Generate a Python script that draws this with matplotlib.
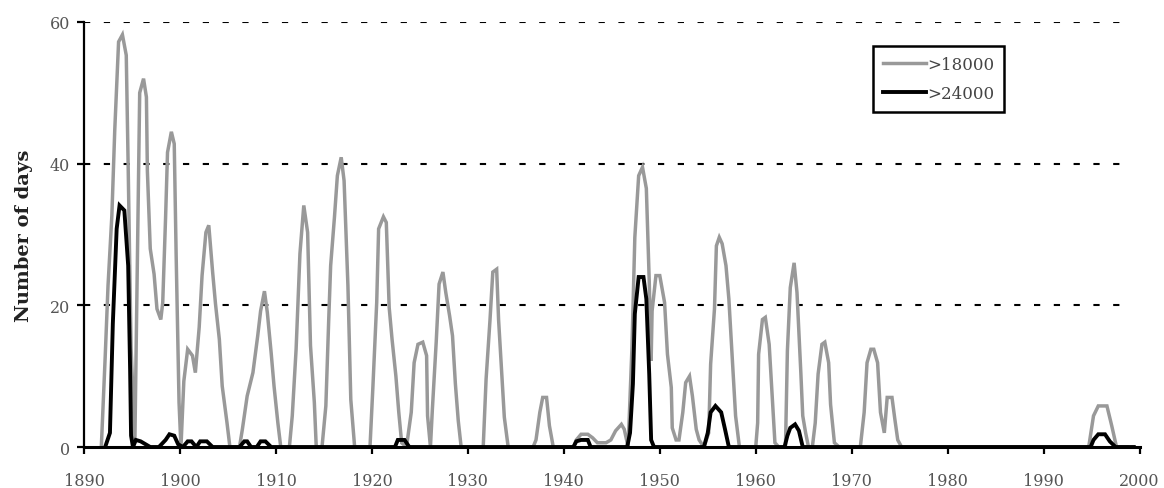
import matplotlib
matplotlib.use("Agg")
import matplotlib.pyplot as plt

# >18000 series (vertices)
years_18 = [1891.8, 1892.2, 1892.5, 1892.9, 1893.2, 1893.6, 1894.0, 1894.4, 1894.6, 1894.9,
            1895.3, 1895.8, 1896.2, 1896.5, 1896.6, 1896.9, 1897.3, 1897.6, 1898.0, 1898.2,
            1898.5, 1898.7, 1899.1, 1899.4, 1899.6, 1899.9, 1900.1, 1900.4, 1900.8, 1901.3,
            1901.6, 1902.0, 1902.3, 1902.7, 1903.0, 1903.4, 1903.7, 1904.1, 1904.4, 1904.9,
            1905.2, 1906.2, 1906.5, 1907.0, 1907.6, 1908.1, 1908.4, 1908.8, 1909.1, 1909.5,
            1909.8, 1910.2, 1910.5, 1911.4, 1911.7, 1912.1, 1912.5, 1912.9, 1913.3, 1913.6,
            1914.0, 1914.2, 1914.8, 1915.2, 1915.5, 1915.7, 1916.1, 1916.4, 1916.8, 1917.1,
            1917.5, 1917.8, 1918.2, 1919.8, 1920.1, 1920.5, 1920.7, 1921.2, 1921.5, 1921.8,
            1922.1, 1922.5, 1922.8, 1923.1, 1923.6, 1924.1, 1924.4, 1924.8, 1925.3, 1925.7,
            1925.8, 1926.1, 1926.3, 1926.7, 1927.0, 1927.4, 1927.7, 1928.1, 1928.4, 1928.7,
            1929.0, 1929.3, 1931.6, 1931.9, 1932.3, 1932.6, 1933.0, 1933.2, 1933.5, 1933.8,
            1934.2, 1936.8, 1937.1, 1937.5, 1937.8, 1938.2, 1938.5, 1938.9, 1941.0, 1941.3,
            1941.8, 1942.5, 1943.0, 1943.5, 1944.4, 1944.9, 1945.4, 1946.0, 1946.3, 1946.7,
            1947.1, 1947.4, 1947.8, 1948.2, 1948.6, 1948.9, 1949.1, 1949.2, 1949.6, 1950.0,
            1950.5, 1950.8, 1951.2, 1951.3, 1951.7, 1952.0, 1952.4, 1952.7, 1953.1, 1953.4,
            1953.8, 1954.1, 1954.6, 1955.1, 1955.3, 1955.7, 1955.9, 1956.2, 1956.5, 1956.9,
            1957.2, 1957.6, 1957.9, 1958.3, 1960.0, 1960.2, 1960.3, 1960.7, 1961.0, 1961.4,
            1961.7, 1962.0, 1962.4, 1963.1, 1963.3, 1963.6, 1964.0, 1964.3, 1964.7, 1964.9,
            1965.2, 1965.5, 1965.9, 1966.2, 1966.5, 1966.9, 1967.2, 1967.6, 1967.8, 1968.2,
            1968.7, 1970.9, 1971.3, 1971.6, 1972.0, 1972.3, 1972.7, 1973.0, 1973.4, 1973.7,
            1974.2, 1974.5, 1974.8, 1975.2, 1994.7, 1995.2, 1995.7, 1996.6, 1997.1, 1997.6,
            1998.7]
days_18 = [0, 12.6, 22.8, 32.7, 44.7, 57.2, 58.2, 55.3, 39.5, 14,
           1, 50, 52, 49.4, 39, 28, 24.4, 19.5, 18, 20.4,
           32.5, 41.6, 44.5, 42.8, 27, 6.3, 0, 9.3, 13.8, 12.9,
           10.5, 16.9, 24.2, 30.3, 31.3, 24.7, 20.2, 15.2, 8.6, 3.4,
           0, 0, 2.5, 7.2, 10.5, 15.7, 19.2, 22, 19, 13.3,
           8.6, 3.4, 0, 0, 4.4, 13.8, 27.3, 34.1, 30.3, 14.3,
           6.3, 0, 0, 5.8, 18, 25.6, 32.5, 38.3, 40.9, 37.6,
           22.8, 6.7, 0, 0, 8.4, 20.4, 30.8, 32.5, 31.7, 19.7,
           15.2, 10, 4.9, 0.6, 0, 4.9, 11.9, 14.5, 14.8, 12.9,
           4.4, 0, 5.3, 14.8, 23, 24.7, 21.8, 18.5, 15.7, 8.9,
           3.7, 0, 0, 9.6, 17.8, 24.7, 25.1, 18, 11, 4.2,
           0, 0, 1, 4.9, 7, 7, 3, 0, 0, 1,
           1.8, 1.8, 1.3, 0.6, 0.6, 1, 2.3, 3.2, 2.5, 0,
           14, 29.6, 38.3, 39.5, 36.5, 23.5, 12.2, 19.2, 24.2, 24.2,
           20.4, 13.1, 8.4, 2.7, 1, 1, 4.9, 9.1, 10, 7.2,
           2.5, 1, 0, 2, 11.7, 19.5, 28.4, 29.6, 28.7, 25.6,
           20.9, 11.5, 4.4, 0, 0, 3.4, 13.1, 18, 18.3, 14.5,
           7.5, 0.6, 0, 0, 13.6, 22.5, 26, 21.8, 10.5, 4.4,
           2, 0, 0, 3.4, 10.3, 14.5, 14.8, 11.9, 6, 0.6,
           0, 0, 4.9, 11.9, 13.8, 13.8, 11.9, 4.9, 2, 7,
           7, 3.9, 1, 0, 0, 4.4, 5.8, 5.8, 3, 0,
           0]

# >24000 series
years_24 = [1892.2, 1892.7, 1893.0, 1893.4, 1893.7, 1894.2, 1894.6, 1894.8, 1894.9, 1895.1,
            1895.4, 1895.9, 1896.4, 1896.9, 1897.8, 1898.5, 1898.9, 1899.4, 1899.8, 1900.3,
            1900.8, 1901.2, 1901.7, 1902.1, 1902.8, 1903.4, 1906.2, 1906.7, 1907.0, 1907.4,
            1908.0, 1908.4, 1908.9, 1909.5, 1922.4, 1922.7, 1923.4, 1923.9, 1941.0, 1941.3,
            1941.8, 1942.5, 1942.8, 1946.6, 1946.9, 1947.2, 1947.4, 1947.8, 1948.3, 1948.6,
            1948.9, 1949.1, 1949.4, 1954.6, 1955.0, 1955.3, 1955.8, 1956.4, 1956.8, 1957.2,
            1963.0, 1963.3, 1963.6, 1964.1, 1964.5, 1964.9, 1994.9, 1995.2, 1995.7, 1996.4,
            1996.9, 1997.5, 1999.4]
days_24 = [0, 2, 17.4, 30.8, 34.1, 33.4, 25.6, 11, 1.6, 0,
           1, 0.8, 0.4, 0, 0, 1, 1.8, 1.6, 0.4, 0,
           0.8, 0.8, 0, 0.8, 0.8, 0, 0, 0.8, 0.8, 0,
           0, 0.8, 0.8, 0, 0, 1, 1, 0, 0, 0.8,
           1, 1, 0, 0, 2, 8.9, 18.8, 24, 24, 20.9,
           10.3, 1, 0, 0, 2, 4.9, 5.8, 4.9, 2.5, 0,
           0, 1.6, 2.7, 3.2, 2.3, 0, 0, 1, 1.8, 1.8,
           0.8, 0, 0]

x_ticks = [1890, 1900, 1910, 1920, 1930, 1940, 1950, 1960, 1970, 1980, 1990, 2000]
y_ticks = [0, 20, 40, 60]

SERIF = ["DejaVu Serif"]

fig = plt.figure(figsize=(11.64, 4.89), dpi=100)
ax = fig.add_axes([0.0722, 0.0838, 0.9068, 0.8692])

ax.plot(years_18, days_18, color="#999999", lw=2.5, label=">18000", zorder=2,
        solid_joinstyle="miter")
ax.plot(years_24, days_24, color="black", lw=2.8, label=">24000", zorder=3,
        solid_joinstyle="miter")

ax.set_xlim(1890, 2000)
ax.set_ylim(0, 60)
ax.set_xticks(x_ticks)
ax.set_yticks(y_ticks)

# dashed gridlines stop a little short of the right end, as in the original
for y in y_ticks[1:]:
    ax.axhline(y, xmax=0.988, color="black", lw=1.5, dashes=(3, 6.5), zorder=1)

for side in ["top", "right"]:
    ax.spines[side].set_visible(False)
ax.spines["left"].set_linewidth(1.6)
ax.spines["bottom"].set_linewidth(2.2)
ax.spines["left"].set_zorder(4)
ax.spines["bottom"].set_zorder(4)

ax.tick_params(axis="both", direction="out", length=5, width=1.6, colors="black",
               labelcolor="#555555", labelsize=11.5)
ax.tick_params(axis="x", pad=13)
ax.tick_params(axis="y", pad=5)
for lab in ax.get_xticklabels() + ax.get_yticklabels():
    lab.set_family(SERIF)

ax.set_ylabel("Number of days", family=SERIF, fontsize=14, fontweight="bold",
              labelpad=12, color="#222222")

leg = ax.legend(loc="upper right", bbox_to_anchor=(0.872, 0.944), borderaxespad=0,
                frameon=True, fancybox=False, framealpha=1, edgecolor="black",
                handlelength=2.6, handletextpad=0.08, labelspacing=0.75, borderpad=0.6,
                prop={"family": SERIF, "size": 12})
leg.get_frame().set_linewidth(1.8)
for t in leg.get_texts():
    t.set_color("#444444")

fig.savefig("out.png", dpi=100, facecolor="white")
